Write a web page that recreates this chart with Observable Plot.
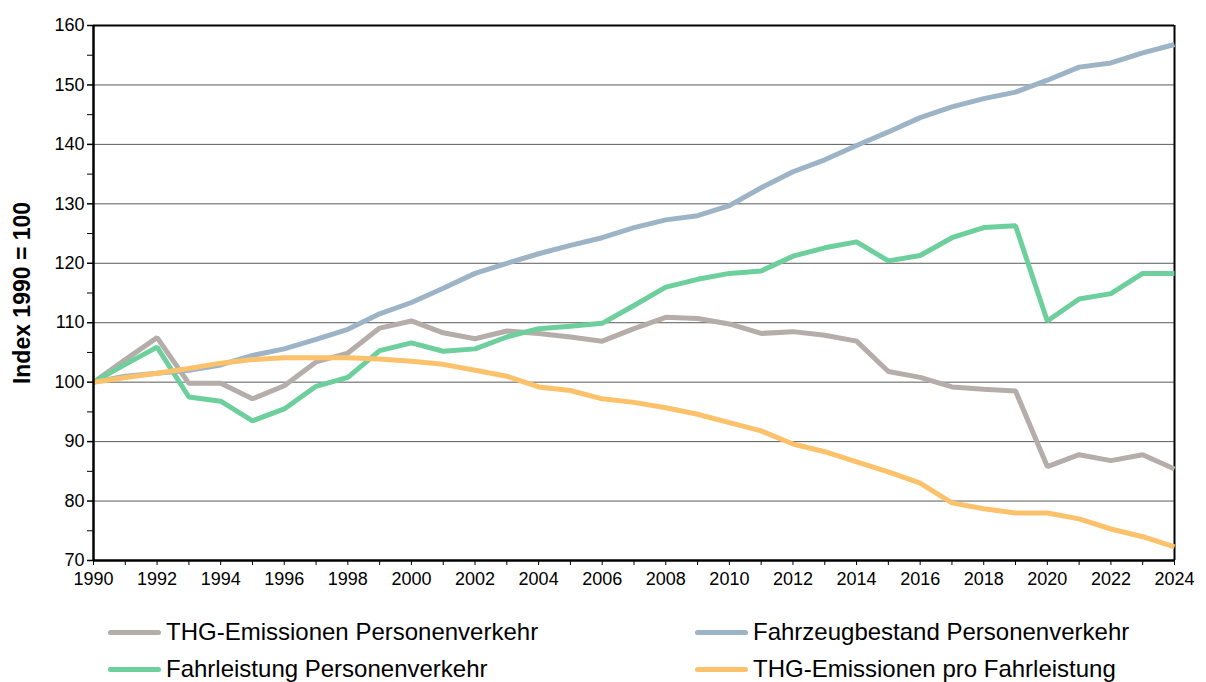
<!DOCTYPE html>
<html>
<head>
<meta charset="utf-8">
<script src="https://cdn.jsdelivr.net/npm/d3@7"></script>
<script src="https://cdn.jsdelivr.net/npm/@observablehq/plot@0.6"></script>
<style>
  html, body { margin: 0; padding: 0; background: #fff; }
  #wrap { position: relative; width: 1206px; height: 682px; overflow: hidden; font-family: "Liberation Sans", Arial, sans-serif; }
  [aria-label="y-axis label"] text { font-weight: bold; font-size: 23px; }
  .leg { position: absolute; height: 28px; display: flex; align-items: center; font-size: 24px; color: #000; white-space: nowrap; }
  .sw { width: 53px; height: 5px; border-radius: 3px; margin-right: 5px; }
</style>
</head>
<body>
<div id="wrap"></div>
<script>
const years = d3.range(1990, 2025);
const thgEmissionen = [100, 103.8, 107.5, 99.8, 99.8, 97.2, 99.4, 103.4, 104.9, 109.1, 110.3, 108.3, 107.3, 108.6, 108.2, 107.6, 106.9, 109.0, 110.9, 110.7, 109.8, 108.2, 108.5, 107.9, 106.9, 101.8, 100.8, 99.2, 98.8, 98.5, 85.8, 87.8, 86.8, 87.8, 85.4];
const fahrzeugbestand = [100, 101.0, 101.5, 102.0, 102.9, 104.5, 105.6, 107.2, 108.9, 111.5, 113.4, 115.8, 118.3, 120.0, 121.6, 123.0, 124.3, 126.0, 127.3, 128.0, 129.7, 132.7, 135.4, 137.4, 139.8, 142.1, 144.5, 146.3, 147.7, 148.8, 150.8, 153.0, 153.7, 155.4, 156.8];
const fahrleistung = [100, 103.0, 105.9, 97.5, 96.8, 93.5, 95.5, 99.3, 100.8, 105.3, 106.6, 105.2, 105.6, 107.6, 109.0, 109.4, 109.9, 112.9, 116.0, 117.3, 118.3, 118.7, 121.2, 122.6, 123.6, 120.4, 121.3, 124.3, 126.0, 126.3, 110.3, 114.0, 114.9, 118.3, 118.3];
const thgProFahrleistung = [100, 100.8, 101.5, 102.3, 103.2, 103.8, 104.1, 104.1, 104.1, 103.9, 103.5, 103.0, 102.0, 101.0, 99.2, 98.6, 97.2, 96.6, 95.7, 94.6, 93.2, 91.8, 89.6, 88.3, 86.6, 84.9, 83.0, 79.7, 78.7, 78.0, 78.0, 77.0, 75.3, 74.0, 72.3];

const seriesNames = ["THG-Emissionen Personenverkehr", "Fahrzeugbestand Personenverkehr", "Fahrleistung Personenverkehr", "THG-Emissionen pro Fahrleistung"];
const seriesColors = ["#b4ada9", "#9db4c6", "#6ccf9c", "#fbc26b"];
const seriesValues = [thgEmissionen, fahrzeugbestand, fahrleistung, thgProFahrleistung];

const yMajorTicks = d3.range(70, 161, 10);
const yMinorTicks = d3.range(75, 160, 10);
const gridValues = d3.range(80, 160, 10);

const table = seriesNames.flatMap((name, i) => years.map((year, j) => ({series: name, year, value: seriesValues[i][j]})));

const chart = Plot.plot({
  width: 1206,
  height: 602,
  marginLeft: 93,
  marginRight: 32,
  marginTop: 25,
  marginBottom: 42,
  style: {fontFamily: "'Liberation Sans', Arial, sans-serif", fontSize: "18px", color: "#000", background: "#fff", overflow: "visible"},
  x: {domain: [1990, 2024], label: null},
  y: {domain: [70, 160], label: null},
  marks: [
    Plot.ruleY(gridValues, {stroke: "#5a5a5a", strokeWidth: 1}),
    Plot.ruleY([160], {stroke: "#000", strokeWidth: 2}),
    Plot.ruleX([2024], {stroke: "#000", strokeWidth: 2}),
    Plot.axisY(yMajorTicks, {tickSize: 6, tickPadding: 3, strokeWidth: 1.5, tickFormat: d => String(d), label: "Index 1990 = 100", labelAnchor: "center", labelOffset: 80, labelArrow: false}),
    Plot.axisY(yMinorTicks, {tickSize: 6, strokeWidth: 1, text: null, label: null}),
    Plot.axisX(years, {tickSize: 5, tickPadding: 7, strokeWidth: 1, tickFormat: d => (d % 2 === 0 ? String(d) : ""), label: null}),
    ...seriesNames.map((name, i) => Plot.line(table.filter(d => d.series === name), {x: "year", y: "value", stroke: seriesColors[i], strokeWidth: 5, strokeLinejoin: "miter", strokeLinecap: "butt"})),
    Plot.ruleX([1990], {stroke: "#000", strokeWidth: 2.5}),
    Plot.ruleY([70], {stroke: "#000", strokeWidth: 2.5})
  ]
});

const wrap = document.getElementById("wrap");
wrap.appendChild(chart);

const legendPos = [
  {left: 108, top: 618},
  {left: 695, top: 618},
  {left: 108, top: 655},
  {left: 695, top: 655}
];
const legendOrder = [0, 1, 2, 3];
legendOrder.forEach((idx, k) => {
  const item = document.createElement("div");
  item.className = "leg";
  item.style.left = legendPos[k].left + "px";
  item.style.top = legendPos[k].top + "px";
  const sw = document.createElement("div");
  sw.className = "sw";
  sw.style.background = seriesColors[idx];
  const label = document.createElement("span");
  label.textContent = seriesNames[idx];
  item.appendChild(sw);
  item.appendChild(label);
  wrap.appendChild(item);
});
</script>
</body>
</html>
